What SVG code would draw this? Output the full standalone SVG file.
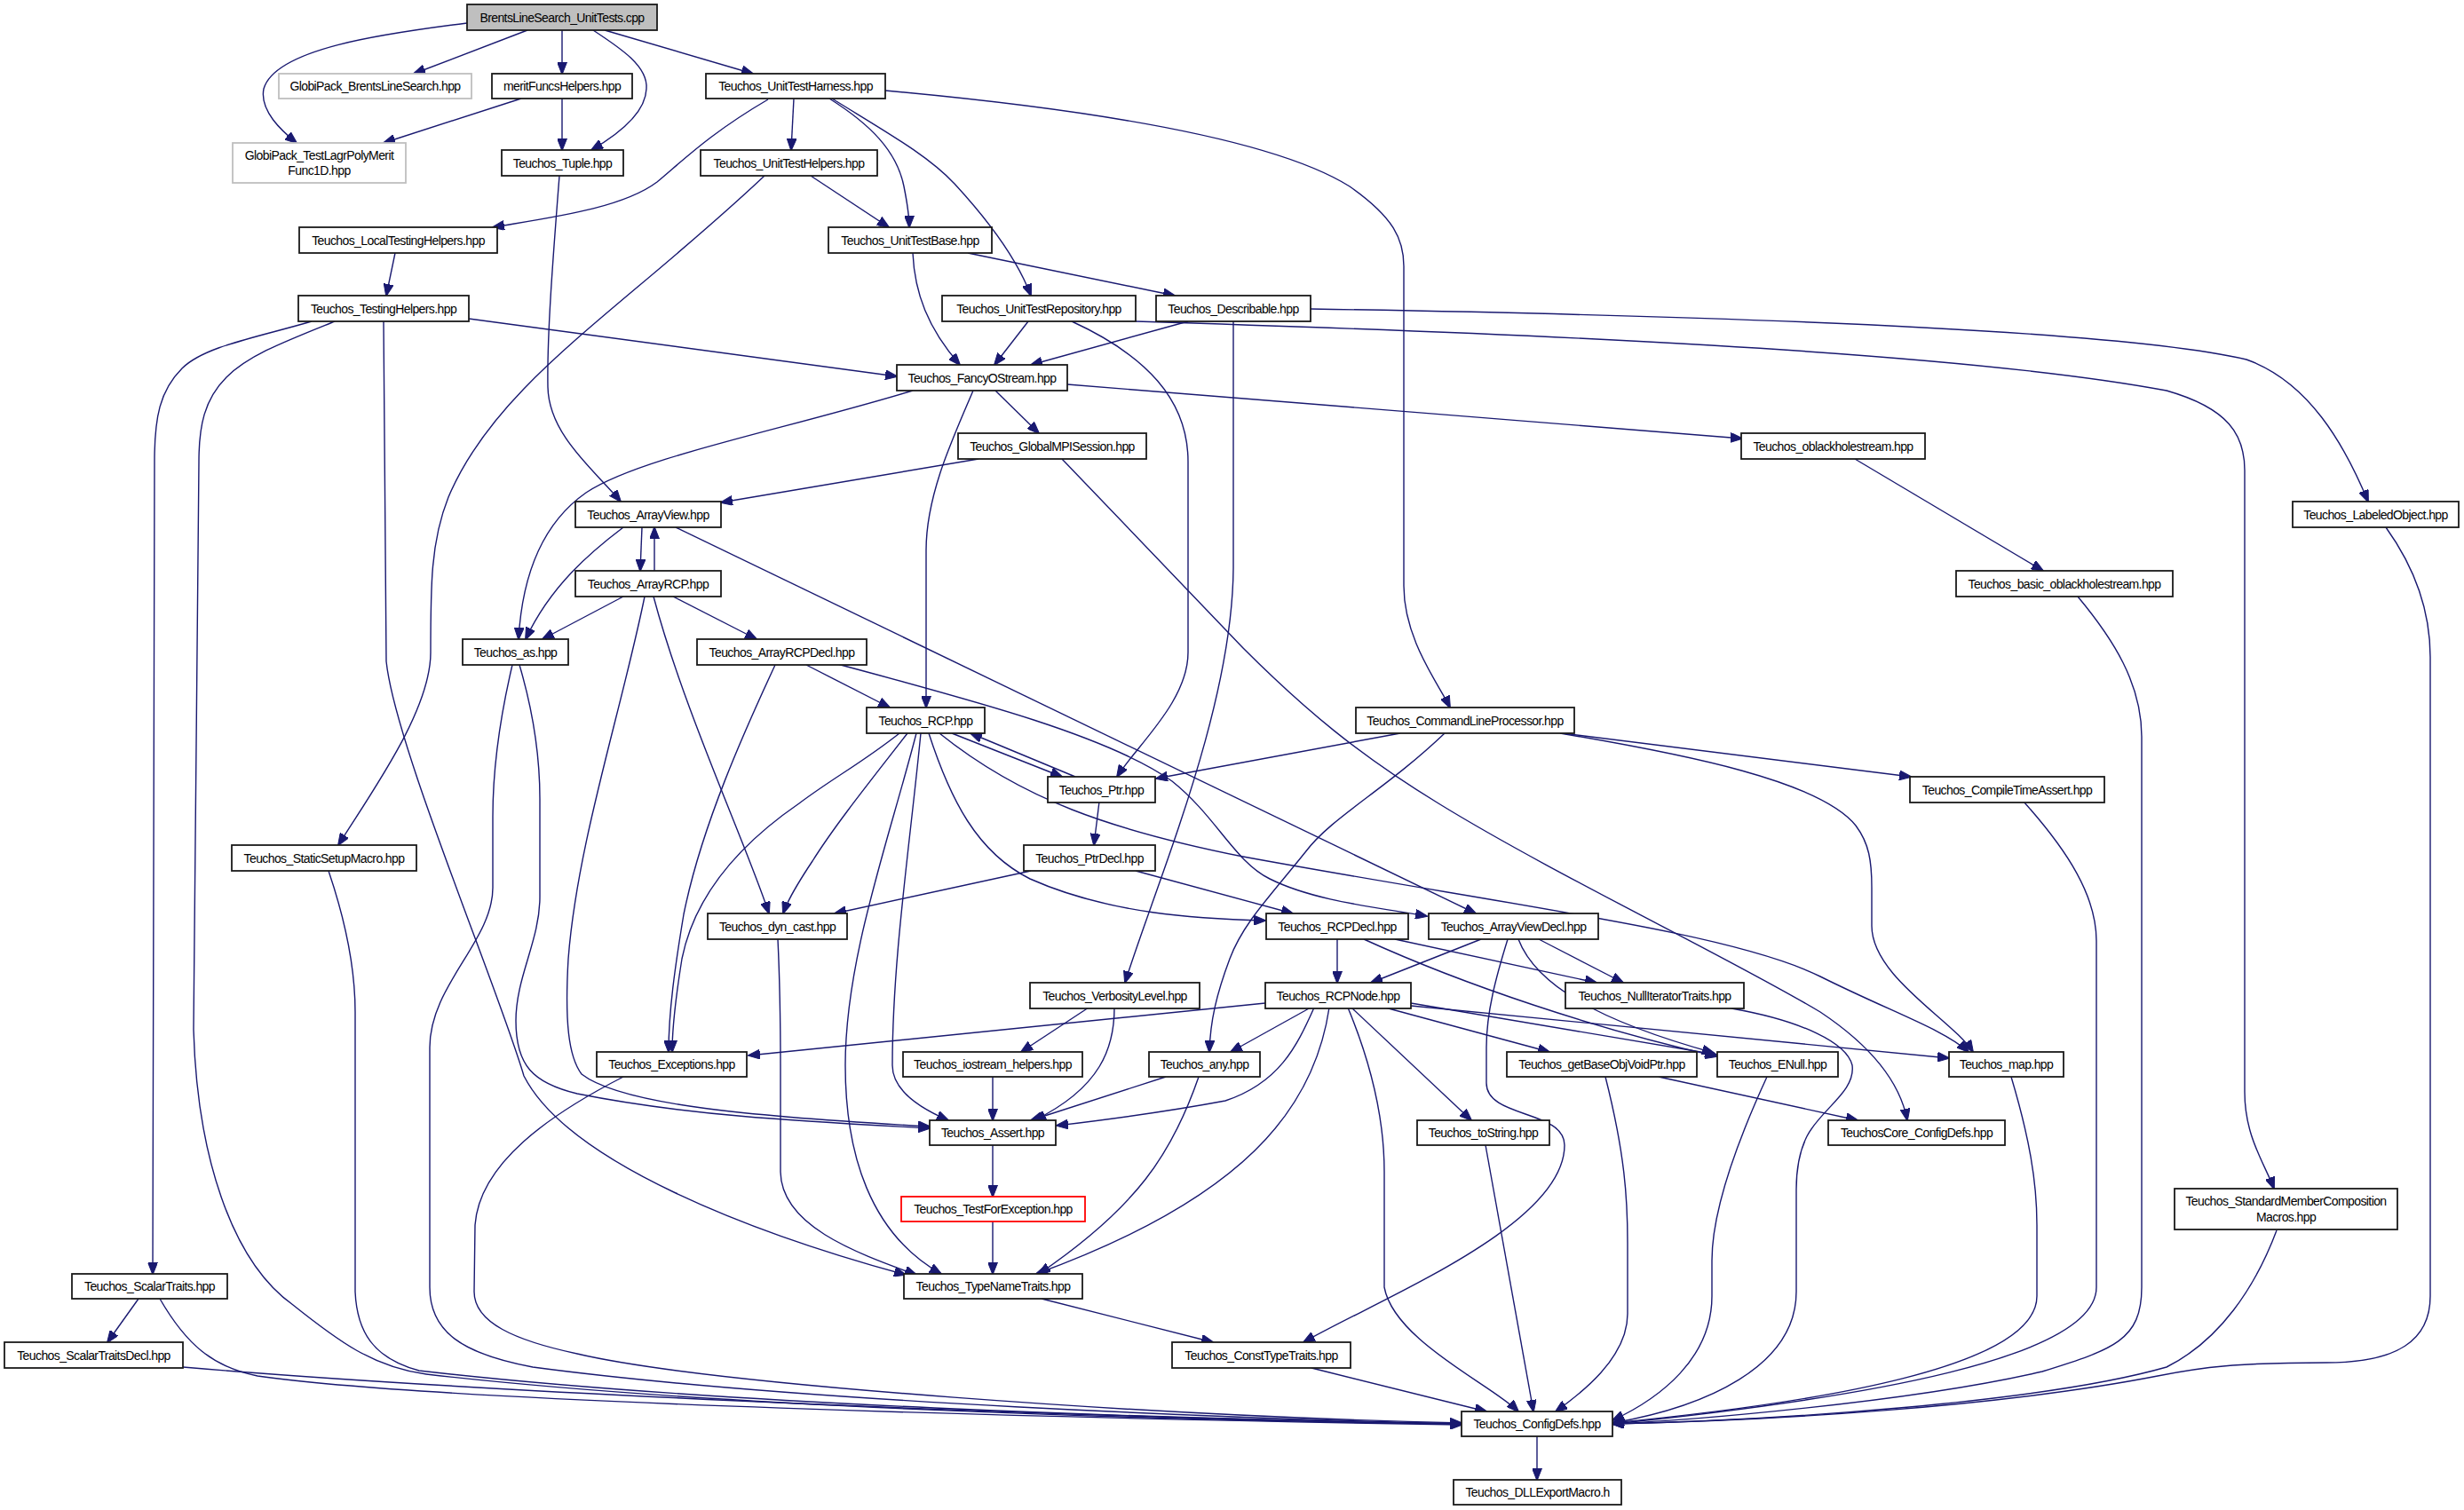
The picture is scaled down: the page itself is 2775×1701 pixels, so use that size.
<svg xmlns="http://www.w3.org/2000/svg" width="2775" height="1701" viewBox="0 0 2775 1701">
<defs>
<style>
.n rect{fill:#fff;stroke:#1a1a1a;stroke-width:1.8}
.n.root rect{fill:#bfbfbf}
.n.gray rect{stroke:#bfbfbf}
.n.red rect{stroke:#ff0000}
.n text{font-family:"Liberation Sans",Arial,Helvetica,sans-serif;font-size:14px;letter-spacing:-0.6px;text-anchor:middle;fill:#000}
.e path{fill:none;stroke:#191970;stroke-width:1.4;marker-end:url(#a)}
</style>
<marker id="a" markerUnits="userSpaceOnUse" markerWidth="14" markerHeight="11" refX="13" refY="5.5" orient="auto" viewBox="0 0 14 11">
<path d="M0,0 L14,5.5 L0,11 z" fill="#191970" stroke="#191970" stroke-width="1"/>
</marker>
</defs>
<rect width="2775" height="1701" fill="#fff"/>
<g id="edges" class="e">
<path d="M526,26 C430,38 310,55 297,100 C292,125 318,148 334,161"/>
<path d="M594,34 L466,83"/>
<path d="M633,34 L633,83"/>
<path d="M668,34 C700,55 730,75 728,100 C727,130 690,155 666,169"/>
<path d="M681,34 L848,83"/>
<path d="M587,111 L432,161"/>
<path d="M633,111 L633,169"/>
<path d="M865,112 C800,150 770,180 740,205 C700,235 620,245 555,256"/>
<path d="M894,111 L891,169"/>
<path d="M861,198 C700,350 560,430 505,560 C485,610 485,660 485,735 C485,800 420,890 381,952"/>
<path d="M934,111 C980,140 1010,170 1018,210 C1022,230 1024,245 1024,256"/>
<path d="M937,111 C1000,150 1045,175 1075,207 C1110,245 1145,290 1161,333"/>
<path d="M997,102 C1250,125 1440,160 1520,210 C1570,245 1581,270 1581,300 L1581,660 C1581,720 1620,770 1633,797"/>
<path d="M913,198 L1001,256"/>
<path d="M1028,285 C1030,330 1045,370 1081,411"/>
<path d="M1090,285 L1323,333"/>
<path d="M1158,362 L1120,411"/>
<path d="M1207,362 C1290,400 1338,450 1338,520 L1338,735 C1338,790 1280,840 1258,875"/>
<path d="M1279,362 C1700,375 2200,395 2440,440 C2510,460 2528,490 2528,530 L2528,1230 C2528,1280 2550,1310 2561,1339"/>
<path d="M1338,362 L1161,411"/>
<path d="M1476,348 C1900,355 2380,370 2530,405 C2600,430 2640,500 2667,565"/>
<path d="M1389,362 L1389,640 C1388,800 1300,1000 1267,1107"/>
<path d="M528,359 L1010,424"/>
<path d="M351,362 C290,380 230,390 205,415 C180,440 174,470 174,520 L172,1435"/>
<path d="M377,362 C320,385 280,400 255,425 C230,450 224,480 224,520 L218,1160 C222,1300 260,1420 330,1470 C380,1510 420,1540 480,1548 C800,1585 1300,1600 1646,1604"/>
<path d="M432,362 L435,745 C445,840 560,1110 590,1212 C640,1310 850,1390 1020,1436"/>
<path d="M445,285 L435,333"/>
<path d="M630,198 C622,300 616,380 617,436 C618,490 670,530 699,565"/>
<path d="M1102,517 L812,566"/>
<path d="M1028,440 C880,485 720,515 660,555 C610,590 588,650 584,720"/>
<path d="M702,594 C665,622 620,660 592,720"/>
<path d="M723,594 L721,643"/>
<path d="M737,643 L737,594"/>
<path d="M761,594 L1662,1029"/>
<path d="M702,672 L611,720"/>
<path d="M758,672 L852,720"/>
<path d="M726,672 C700,800 650,950 640,1080 C636,1150 640,1190 655,1210 C700,1245 850,1258 1047,1269"/>
<path d="M736,672 C770,800 840,950 866,1029"/>
<path d="M577,749 C565,800 555,860 555,920 L555,1000 C555,1060 484,1110 484,1180 L484,1450 C484,1500 520,1525 600,1540 C900,1580 1400,1598 1646,1604"/>
<path d="M585,749 C600,800 608,850 608,900 L608,1010 C608,1060 581,1100 581,1150 C581,1200 600,1220 650,1232 C780,1258 920,1264 1047,1271"/>
<path d="M370,981 C390,1040 400,1090 400,1140 L400,1455 C402,1500 420,1530 472,1544 C800,1582 1300,1598 1646,1604"/>
<path d="M156,1463 L121,1512"/>
<path d="M180,1463 C210,1515 240,1540 290,1550 C500,1580 1200,1598 1646,1605"/>
<path d="M206,1540 C500,1565 1100,1595 1646,1604"/>
<path d="M702,1213 C620,1255 540,1310 535,1380 L534,1455 C534,1490 580,1510 650,1525 C800,1560 1300,1595 1646,1603"/>
<path d="M1013,826 C970,860 940,875 900,905 C820,960 780,1020 768,1080 C760,1130 757,1160 757,1185"/>
<path d="M873,749 C840,820 790,930 770,1030 C760,1090 753,1140 753,1185"/>
<path d="M1022,826 C980,880 940,930 915,970 C895,1000 885,1020 882,1029"/>
<path d="M1037,826 C1025,950 1005,1080 1005,1200 C1005,1230 1040,1250 1068,1262"/>
<path d="M1032,826 C1000,950 952,1080 952,1200 C952,1300 980,1390 1060,1435"/>
<path d="M1046,826 C1070,900 1100,960 1160,990 C1250,1030 1350,1035 1425,1037"/>
<path d="M1072,826 L1196,875"/>
<path d="M1211,875 L1093,826"/>
<path d="M1058,826 C1150,900 1250,935 1400,965 C1700,1020 1950,1050 2050,1100 C2130,1140 2190,1160 2217,1185"/>
<path d="M1757,826 C1900,850 2050,880 2090,930 C2105,950 2108,970 2108,1000 L2108,1043 C2108,1100 2200,1150 2222,1185"/>
<path d="M1760,826 L2152,875"/>
<path d="M1577,826 L1302,877"/>
<path d="M1627,826 C1560,890 1500,920 1470,960 C1430,1010 1400,1040 1385,1080 C1370,1120 1363,1150 1362,1185"/>
<path d="M908,749 L1002,797"/>
<path d="M943,748 C1100,790 1250,830 1320,880 C1370,920 1390,970 1430,990 C1480,1015 1550,1022 1607,1032"/>
<path d="M1238,903 L1232,952"/>
<path d="M1161,981 L940,1029"/>
<path d="M1279,981 L1456,1029"/>
<path d="M1506,1058 L1506,1107"/>
<path d="M1571,1058 L1798,1107"/>
<path d="M1536,1058 C1650,1110 1800,1160 1934,1190"/>
<path d="M1668,1058 L1544,1107"/>
<path d="M1733,1058 L1828,1107"/>
<path d="M1698,1058 C1685,1100 1674,1140 1674,1180 L1674,1220 C1674,1260 1762,1250 1762,1290 C1762,1380 1560,1460 1468,1512"/>
<path d="M1710,1058 C1730,1110 1800,1150 1930,1186"/>
<path d="M1425,1130 L843,1189"/>
<path d="M1480,1135 C1460,1180 1440,1220 1380,1240 C1300,1255 1240,1262 1190,1268"/>
<path d="M1476,1135 L1386,1185"/>
<path d="M1497,1135 C1480,1250 1400,1350 1167,1435"/>
<path d="M1518,1135 C1545,1200 1559,1260 1559,1320 L1559,1450 C1570,1510 1680,1560 1710,1590"/>
<path d="M1522,1135 L1657,1262"/>
<path d="M1560,1135 L1745,1185"/>
<path d="M1589,1130 L1933,1188"/>
<path d="M1589,1133 L2195,1192"/>
<path d="M1226,1135 L1150,1185"/>
<path d="M1255,1135 C1255,1180 1240,1225 1165,1262"/>
<path d="M1118,1213 L1118,1262"/>
<path d="M1313,1213 L1161,1262"/>
<path d="M1350,1213 C1320,1300 1280,1360 1170,1435"/>
<path d="M1118,1290 L1118,1348"/>
<path d="M1118,1376 L1118,1435"/>
<path d="M1173,1463 L1366,1512"/>
<path d="M1477,1541 L1674,1590"/>
<path d="M1731,1618 L1731,1667"/>
<path d="M1673,1290 L1727,1590"/>
<path d="M1808,1213 C1830,1300 1833,1350 1833,1400 L1833,1480 C1833,1530 1780,1570 1752,1590"/>
<path d="M1868,1213 L2092,1262"/>
<path d="M1990,1213 C1950,1300 1928,1370 1928,1420 L1928,1460 C1928,1530 1870,1575 1816,1600"/>
<path d="M1950,1136 C2030,1150 2080,1175 2086,1200 C2090,1230 2050,1250 2035,1280 C2025,1300 2023,1320 2023,1340 L2023,1455 C2023,1540 1920,1585 1816,1603"/>
<path d="M2265,1213 C2285,1280 2294,1330 2294,1380 L2294,1460 C2294,1540 2050,1580 1816,1603"/>
<path d="M2279,903 C2330,960 2361,1010 2361,1060 L2361,1450 C2361,1530 2100,1575 1816,1604"/>
<path d="M2340,672 C2380,720 2412,770 2412,830 L2412,1450 C2412,1510 2380,1520 2300,1545 C2150,1580 1900,1600 1816,1604"/>
<path d="M2564,1386 C2540,1450 2500,1510 2440,1540 C2300,1580 2000,1600 1816,1604"/>
<path d="M2687,594 C2720,640 2737,690 2737,740 L2737,1460 C2737,1510 2700,1535 2620,1535 C2520,1535 2480,1540 2430,1550 C2250,1585 2000,1600 1816,1604"/>
<path d="M2089,517 L2301,643"/>
<path d="M1202,433 L1962,494"/>
<path d="M1121,440 L1170,488"/>
<path d="M1096,440 C1070,500 1043,560 1043,620 L1043,797"/>
<path d="M1196,517 L1400,730 C1470,800 1530,850 1620,905 C1750,985 1950,1080 2050,1140 C2110,1180 2140,1220 2148,1262"/>
<path d="M876,1058 C878,1100 879,1150 879,1200 L879,1320 C880,1380 960,1410 1032,1436"/>
</g>
<g id="n0" class="n root"><rect x="526" y="5" width="214" height="29"/><text x="633" y="24.5">BrentsLineSearch_UnitTests.cpp</text></g>
<g id="n1" class="n gray"><rect x="314" y="83" width="217" height="28"/><text x="422.5" y="102">GlobiPack_BrentsLineSearch.hpp</text></g>
<g id="n2" class="n"><rect x="554" y="83" width="158" height="28"/><text x="633" y="102">meritFuncsHelpers.hpp</text></g>
<g id="n3" class="n"><rect x="795" y="83" width="202" height="28"/><text x="896" y="102">Teuchos_UnitTestHarness.hpp</text></g>
<g id="n4" class="n gray"><rect x="262" y="161" width="195" height="45"/><text x="359.5" y="179.5">GlobiPack_TestLagrPolyMerit</text><text x="359.5" y="196.5">Func1D.hpp</text></g>
<g id="n5" class="n"><rect x="565" y="169" width="137" height="29"/><text x="633.5" y="188.5">Teuchos_Tuple.hpp</text></g>
<g id="n6" class="n"><rect x="789" y="169" width="199" height="29"/><text x="888.5" y="188.5">Teuchos_UnitTestHelpers.hpp</text></g>
<g id="n7" class="n"><rect x="337" y="256" width="223" height="29"/><text x="448.5" y="275.5">Teuchos_LocalTestingHelpers.hpp</text></g>
<g id="n8" class="n"><rect x="933" y="256" width="184" height="29"/><text x="1025" y="275.5">Teuchos_UnitTestBase.hpp</text></g>
<g id="n9" class="n"><rect x="336" y="333" width="192" height="29"/><text x="432" y="352.5">Teuchos_TestingHelpers.hpp</text></g>
<g id="n10" class="n"><rect x="1061" y="333" width="218" height="29"/><text x="1170" y="352.5">Teuchos_UnitTestRepository.hpp</text></g>
<g id="n11" class="n"><rect x="1302" y="333" width="174" height="29"/><text x="1389" y="352.5">Teuchos_Describable.hpp</text></g>
<g id="n12" class="n"><rect x="1010" y="411" width="192" height="29"/><text x="1106" y="430.5">Teuchos_FancyOStream.hpp</text></g>
<g id="n13" class="n"><rect x="1079" y="488" width="212" height="29"/><text x="1185" y="507.5">Teuchos_GlobalMPISession.hpp</text></g>
<g id="n14" class="n"><rect x="1961" y="488" width="207" height="29"/><text x="2064.5" y="507.5">Teuchos_oblackholestream.hpp</text></g>
<g id="n15" class="n"><rect x="648" y="565" width="164" height="29"/><text x="730" y="584.5">Teuchos_ArrayView.hpp</text></g>
<g id="n16" class="n"><rect x="2582" y="565" width="187" height="29"/><text x="2675.5" y="584.5">Teuchos_LabeledObject.hpp</text></g>
<g id="n17" class="n"><rect x="648" y="643" width="164" height="29"/><text x="730" y="662.5">Teuchos_ArrayRCP.hpp</text></g>
<g id="n18" class="n"><rect x="2203" y="643" width="244" height="29"/><text x="2325" y="662.5">Teuchos_basic_oblackholestream.hpp</text></g>
<g id="n19" class="n"><rect x="521" y="720" width="119" height="29"/><text x="580.5" y="739.5">Teuchos_as.hpp</text></g>
<g id="n20" class="n"><rect x="785" y="720" width="191" height="29"/><text x="880.5" y="739.5">Teuchos_ArrayRCPDecl.hpp</text></g>
<g id="n21" class="n"><rect x="976" y="797" width="133" height="29"/><text x="1042.5" y="816.5">Teuchos_RCP.hpp</text></g>
<g id="n22" class="n"><rect x="1527" y="797" width="246" height="29"/><text x="1650" y="816.5">Teuchos_CommandLineProcessor.hpp</text></g>
<g id="n23" class="n"><rect x="1180" y="875" width="121" height="29"/><text x="1240.5" y="894.5">Teuchos_Ptr.hpp</text></g>
<g id="n24" class="n"><rect x="2151" y="875" width="219" height="29"/><text x="2260.5" y="894.5">Teuchos_CompileTimeAssert.hpp</text></g>
<g id="n25" class="n"><rect x="261" y="952" width="208" height="29"/><text x="365" y="971.5">Teuchos_StaticSetupMacro.hpp</text></g>
<g id="n26" class="n"><rect x="1153" y="952" width="148" height="29"/><text x="1227" y="971.5">Teuchos_PtrDecl.hpp</text></g>
<g id="n27" class="n"><rect x="797" y="1029" width="157" height="29"/><text x="875.5" y="1048.5">Teuchos_dyn_cast.hpp</text></g>
<g id="n28" class="n"><rect x="1426" y="1029" width="160" height="29"/><text x="1506" y="1048.5">Teuchos_RCPDecl.hpp</text></g>
<g id="n29" class="n"><rect x="1609" y="1029" width="191" height="29"/><text x="1704.5" y="1048.5">Teuchos_ArrayViewDecl.hpp</text></g>
<g id="n30" class="n"><rect x="1160" y="1107" width="191" height="29"/><text x="1255.5" y="1126.5">Teuchos_VerbosityLevel.hpp</text></g>
<g id="n31" class="n"><rect x="1425" y="1107" width="164" height="29"/><text x="1507" y="1126.5">Teuchos_RCPNode.hpp</text></g>
<g id="n32" class="n"><rect x="1763" y="1107" width="201" height="29"/><text x="1863.5" y="1126.5">Teuchos_NullIteratorTraits.hpp</text></g>
<g id="n33" class="n"><rect x="672" y="1185" width="169" height="28"/><text x="756.5" y="1204">Teuchos_Exceptions.hpp</text></g>
<g id="n34" class="n"><rect x="1017" y="1185" width="202" height="28"/><text x="1118" y="1204">Teuchos_iostream_helpers.hpp</text></g>
<g id="n35" class="n"><rect x="1294" y="1185" width="125" height="28"/><text x="1356.5" y="1204">Teuchos_any.hpp</text></g>
<g id="n36" class="n"><rect x="1697" y="1185" width="214" height="28"/><text x="1804" y="1204">Teuchos_getBaseObjVoidPtr.hpp</text></g>
<g id="n37" class="n"><rect x="1934" y="1185" width="136" height="28"/><text x="2002" y="1204">Teuchos_ENull.hpp</text></g>
<g id="n38" class="n"><rect x="2195" y="1185" width="129" height="28"/><text x="2259.5" y="1204">Teuchos_map.hpp</text></g>
<g id="n39" class="n"><rect x="1047" y="1262" width="142" height="28"/><text x="1118" y="1281">Teuchos_Assert.hpp</text></g>
<g id="n40" class="n"><rect x="1596" y="1262" width="149" height="28"/><text x="1670.5" y="1281">Teuchos_toString.hpp</text></g>
<g id="n41" class="n"><rect x="2059" y="1262" width="199" height="28"/><text x="2158.5" y="1281">TeuchosCore_ConfigDefs.hpp</text></g>
<g id="n42" class="n red"><rect x="1015" y="1348" width="207" height="28"/><text x="1118.5" y="1367">Teuchos_TestForException.hpp</text></g>
<g id="n43" class="n"><rect x="2449" y="1339" width="251" height="46"/><text x="2574.5" y="1358">Teuchos_StandardMemberComposition</text><text x="2574.5" y="1376">Macros.hpp</text></g>
<g id="n44" class="n"><rect x="81" y="1435" width="175" height="28"/><text x="168.5" y="1454">Teuchos_ScalarTraits.hpp</text></g>
<g id="n45" class="n"><rect x="1018" y="1435" width="201" height="28"/><text x="1118.5" y="1454">Teuchos_TypeNameTraits.hpp</text></g>
<g id="n46" class="n"><rect x="5" y="1512" width="201" height="29"/><text x="105.5" y="1531.5">Teuchos_ScalarTraitsDecl.hpp</text></g>
<g id="n47" class="n"><rect x="1320" y="1512" width="201" height="29"/><text x="1420.5" y="1531.5">Teuchos_ConstTypeTraits.hpp</text></g>
<g id="n48" class="n"><rect x="1646" y="1590" width="170" height="28"/><text x="1731" y="1609">Teuchos_ConfigDefs.hpp</text></g>
<g id="n49" class="n"><rect x="1637" y="1667" width="189" height="28"/><text x="1731.5" y="1686">Teuchos_DLLExportMacro.h</text></g>
</svg>
